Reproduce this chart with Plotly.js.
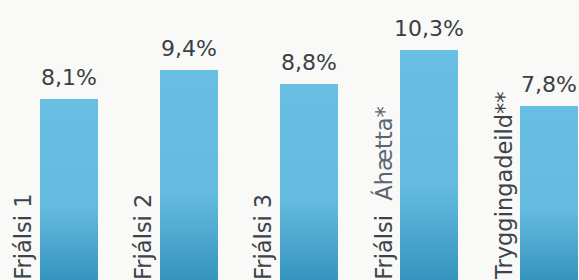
<!DOCTYPE html>
<html>
<head>
<meta charset="utf-8">
<script src="https://cdn.plot.ly/plotly-3.0.1.min.js"></script>
<style>
html,body{margin:0;padding:0;background:#f9f9f7;}
#chart{width:579px;height:280px;}
</style>
</head>
<body>
<div id="chart"></div>
<script>
const categories = ["Frjálsi 1", "Frjálsi 2", "Frjálsi 3", "Frjálsi\u00A0\u00A0<span style=\"fill:#5a6570\">Áhætta*</span>", "Tryggingadeild**"];
const values = [8.1, 9.4, 8.8, 10.3, 7.8];
const valueLabels = ["8,1%", "9,4%", "8,8%", "10,3%", "7,8%"];

const xs = categories.map((c, i) => i);

const trace = {
  type: 'bar',
  x: xs,
  y: values,
  width: 0.483,
  marker: {color: '#5fb6dc', line: {width: 0}},
  hoverinfo: 'none'
};

const annotations = [];
values.forEach((v, i) => {
  annotations.push({
    x: i, y: v, xref: 'x', yref: 'y',
    text: valueLabels[i], showarrow: false,
    xanchor: 'center', yanchor: 'bottom', yshift: 7,
    font: {family: 'DejaVu Sans', size: 22, color: '#3a3f45'}
  });
  annotations.push({
    x: i, y: 0, xref: 'x', yref: 'y',
    text: categories[i], showarrow: false, textangle: -90,
    xanchor: 'right', yanchor: 'bottom', xshift: -31, yshift: -2,
    font: {family: 'DejaVu Sans', size: 22.5, color: '#3d4349'}
  });
});

const layout = {
  width: 579, height: 280,
  margin: {l: 0, r: 0, t: 0, b: 0, pad: 0},
  paper_bgcolor: '#f9f9f7', plot_bgcolor: '#f9f9f7',
  showlegend: false,
  xaxis: {range: [-0.5726, 4.246], visible: false, fixedrange: true, type: 'linear'},
  yaxis: {range: [0, 12.56], visible: false, fixedrange: true},
  annotations: annotations,
  bargap: 0
};

Plotly.newPlot('chart', [trace], layout, {staticPlot: true, displayModeBar: false}).then(gd => {
  const svg = gd.querySelector('svg.main-svg');
  const ns = 'http://www.w3.org/2000/svg';
  let defs = svg.querySelector('defs');
  if (!defs) { defs = document.createElementNS(ns, 'defs'); svg.insertBefore(defs, svg.firstChild); }
  const grad = document.createElementNS(ns, 'linearGradient');
  grad.setAttribute('id', 'barGrad');
  grad.setAttribute('x1', '0'); grad.setAttribute('y1', '0');
  grad.setAttribute('x2', '0'); grad.setAttribute('y2', '1');
  [['0', '#69bee3'], ['0.6', '#64badf'], ['1', '#3594be']].forEach(([o, c]) => {
    const s = document.createElementNS(ns, 'stop');
    s.setAttribute('offset', o); s.setAttribute('stop-color', c);
    grad.appendChild(s);
  });
  defs.appendChild(grad);
  gd.querySelectorAll('.bars .point path').forEach(p => {
    p.style.fill = 'url(#barGrad)';
  });
});
</script>
</body>
</html>
